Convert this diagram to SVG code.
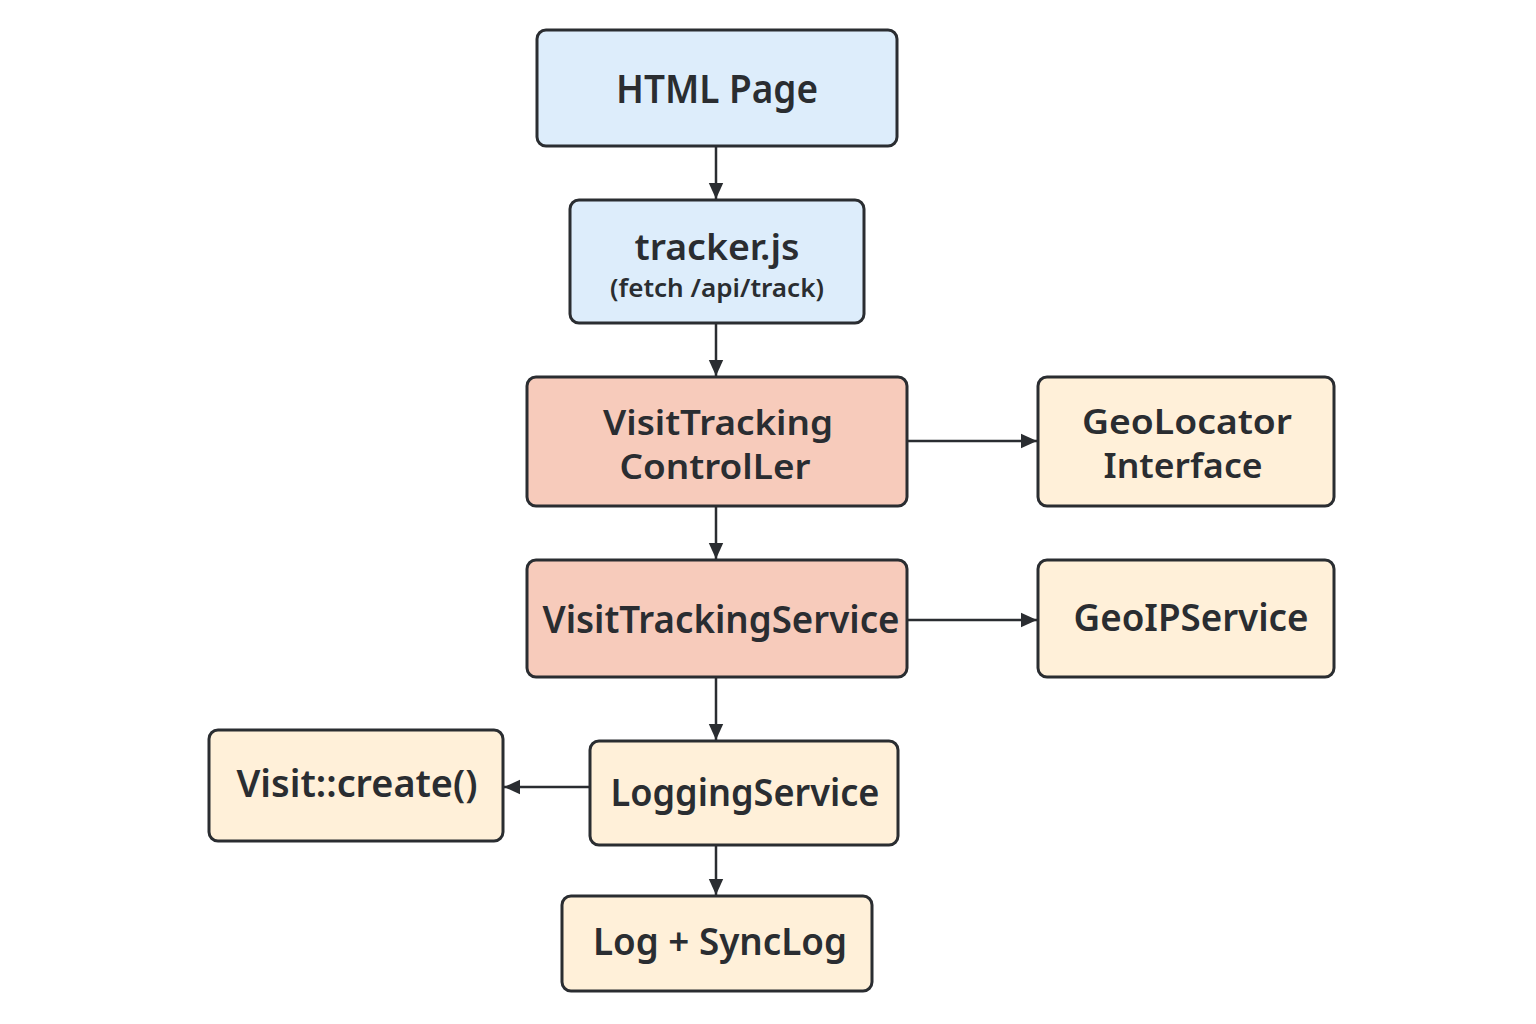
<svg xmlns="http://www.w3.org/2000/svg" width="1536" height="1024" viewBox="0 0 1536 1024">
<style>
.box{stroke:#2a2d31;stroke-width:3}
.blue{fill:#ddedfb}
.red{fill:#f7cbbb}
.cream{fill:#fff0d9}
text{font-family:"Noto Sans","Liberation Sans",sans-serif;fill:#2a2d31;font-weight:600;text-anchor:middle}
.c{stroke:#2a2d31;stroke-width:2.5;fill:none}
</style>
<defs>
<marker id="ah" viewBox="0 0 10 10" refX="10" refY="5" markerWidth="16" markerHeight="16" markerUnits="userSpaceOnUse" orient="auto">
<path d="M0,0.5 L10,5 L0,9.5 z" fill="#2a2d31"/>
</marker>
</defs>
<rect width="1536" height="1024" fill="#ffffff"/>
<g id="connectors">
<line class="c" x1="716" y1="146" x2="716" y2="199" marker-end="url(#ah)"/>
<line class="c" x1="716" y1="323" x2="716" y2="376" marker-end="url(#ah)"/>
<line class="c" x1="716" y1="506" x2="716" y2="559" marker-end="url(#ah)"/>
<line class="c" x1="716" y1="677" x2="716" y2="740" marker-end="url(#ah)"/>
<line class="c" x1="716" y1="845" x2="716" y2="895" marker-end="url(#ah)"/>
<line class="c" x1="907" y1="441" x2="1037" y2="441" marker-end="url(#ah)"/>
<line class="c" x1="907" y1="620" x2="1037" y2="620" marker-end="url(#ah)"/>
<line class="c" x1="590" y1="787" x2="504" y2="787" marker-end="url(#ah)"/>
</g>
<g id="html-page">
<rect class="box blue" x="537" y="30" width="360" height="116" rx="9"/>
<text x="717" y="103" font-size="40" textLength="202" lengthAdjust="spacingAndGlyphs">HTML Page</text>
</g>
<g id="tracker-js">
<rect class="box blue" x="570" y="200" width="294" height="123" rx="9"/>
<text x="717" y="260" font-size="36" textLength="165" lengthAdjust="spacingAndGlyphs">tracker.js</text>
<text x="717" y="297" font-size="25" font-weight="500" textLength="214" lengthAdjust="spacingAndGlyphs">(fetch /api/track)</text>
</g>
<g id="controller">
<rect class="box red" x="527" y="377" width="380" height="129" rx="9"/>
<text x="718" y="435" font-size="34" textLength="230" lengthAdjust="spacingAndGlyphs">VisitTracking</text>
<text x="715" y="479" font-size="34" textLength="191" lengthAdjust="spacingAndGlyphs">ControlLer</text>
</g>
<g id="geolocator">
<rect class="box cream" x="1038" y="377" width="296" height="129" rx="9"/>
<text x="1187" y="434" font-size="34" textLength="210" lengthAdjust="spacingAndGlyphs">GeoLocator</text>
<text x="1183" y="478" font-size="34" textLength="159" lengthAdjust="spacingAndGlyphs">Interface</text>
</g>
<g id="service">
<rect class="box red" x="527" y="560" width="380" height="117" rx="9"/>
<text x="721" y="633" font-size="38" textLength="357" lengthAdjust="spacingAndGlyphs">VisitTrackingService</text>
</g>
<g id="geoip">
<rect class="box cream" x="1038" y="560" width="296" height="117" rx="9"/>
<text x="1191" y="631" font-size="38" textLength="235" lengthAdjust="spacingAndGlyphs">GeoIPService</text>
</g>
<g id="visit-create">
<rect class="box cream" x="209" y="730" width="294" height="111" rx="9"/>
<text x="357" y="797" font-size="38" textLength="241" lengthAdjust="spacingAndGlyphs">Visit::create()</text>
</g>
<g id="logging">
<rect class="box cream" x="590" y="741" width="308" height="104" rx="9"/>
<text x="745" y="806" font-size="38" textLength="269" lengthAdjust="spacingAndGlyphs">LoggingService</text>
</g>
<g id="log-synclog">
<rect class="box cream" x="562" y="896" width="310" height="95" rx="9"/>
<text x="720" y="955" font-size="38" textLength="254" lengthAdjust="spacingAndGlyphs">Log + SyncLog</text>
</g>
</svg>
